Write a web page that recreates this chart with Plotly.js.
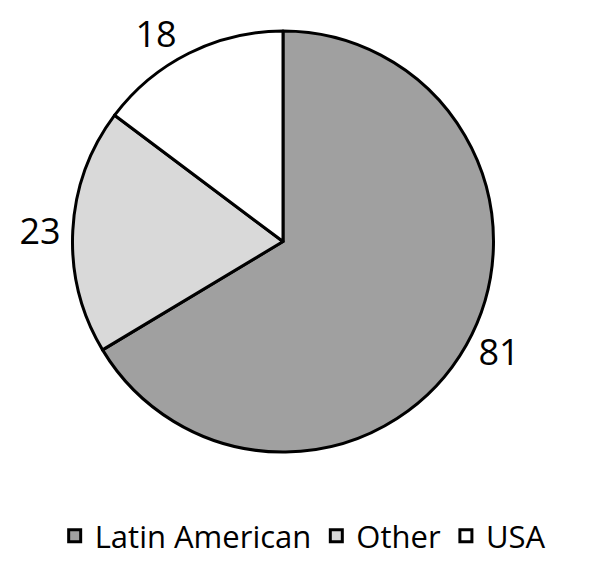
<!DOCTYPE html>
<html>
<head>
<meta charset="utf-8">
<script src="https://cdn.plot.ly/plotly-3.0.1.min.js"></script>
<style>html,body{margin:0;padding:0;background:#fff;}#chart{width:609px;height:563px;}</style>
</head>
<body>
<div id="chart"></div>
<script>
const categories = ["Latin American", "Other", "USA"];
const values = [81, 23, 18];
const colors = ["#A0A0A0", "#D9D9D9", "#FFFFFF"];

const trace = {
  type: "pie",
  labels: categories,
  values: values,
  sort: false,
  direction: "clockwise",
  rotation: 0,
  textinfo: "value",
  textposition: "outside",
  outsidetextfont: {family: "'Open Sans', sans-serif", size: 36, color: "#000"},
  marker: {colors: colors, line: {color: "#000", width: 3}},
  domain: {x: [0.1133, 0.8161], y: [0.068, 0.936]},
  hoverinfo: "none"
};

const layout = {
  width: 609, height: 563,
  margin: {l: 0, r: 0, t: 0, b: 70},
  paper_bgcolor: "#fff",
  showlegend: true,
  legend: {
    orientation: "h", x: 0.497, xanchor: "center", y: -0.05, yanchor: "top",
    font: {family: "'Open Sans', sans-serif", size: 31, color: "#000"}
  }
};

Plotly.newPlot("chart", [trace], layout, {staticPlot: true});
</script>
</body>
</html>
